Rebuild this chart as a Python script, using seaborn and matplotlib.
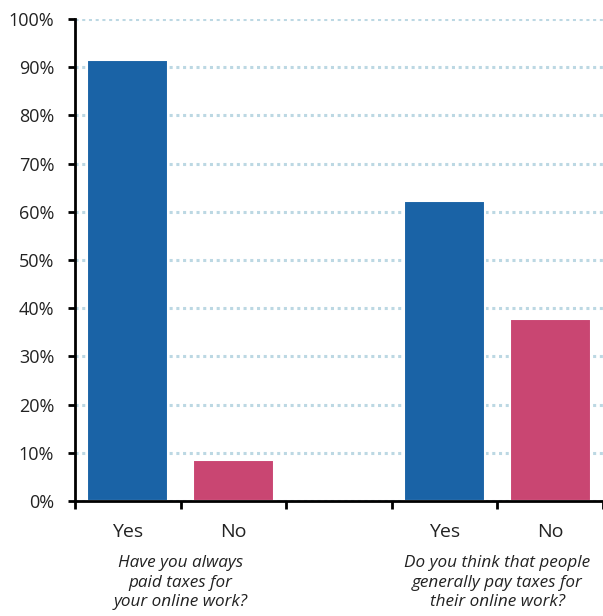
import pandas as pd
import matplotlib
matplotlib.use("Agg")
import matplotlib.pyplot as plt
import seaborn as sns

# survey answers, percent
answers = ["Yes", "No", "Yes", "No"]
slots = [0, 1, 3, 4]          # slot 2 is the empty gap between the two questions
shares = [91.4, 8.6, 62.3, 37.7]
questions = ["Have you always\npaid taxes for\nyour online work?",
             "Do you think that people\ngenerally pay taxes for\ntheir online work?"]
question_pos = [0.5, 3.5]
y_ticks = list(range(0, 101, 10))

blue = "#1a63a6"
pink = "#c94672"

df = pd.DataFrame({"slot": slots, "answer": answers, "share": shares})

sns.set_style("white")
plt.rcParams["font.family"] = ["Open Sans", "DejaVu Sans"]

fig = plt.figure(figsize=(6.03, 6.16), dpi=100)
ax = fig.add_axes([75 / 603, 1 - 501 / 616, 528 / 603, 482 / 616])

sns.barplot(data=df, x="slot", y="share", hue="answer", native_scale=True,
            palette={"Yes": blue, "No": pink}, width=0.77, dodge=False, saturation=1,
            edgecolor="white", linewidth=1.5, legend=False, ax=ax, zorder=2)

ax.set_xlim(-0.5, 4.5)
ax.set_ylim(0, 100)
ax.set_yticks(y_ticks)
ax.set_yticklabels([f"{t}%" for t in y_ticks])
ax.yaxis.grid(True, color="#bcd8e3", linestyle=(0, (1, 1.2)), linewidth=2.2, zorder=0)
ax.set_axisbelow(True)

# category labels at centres, tick marks at the slot boundaries
ax.set_xticks(slots)
ax.set_xticklabels(answers)
ax.set_xticks([-0.5, 0.5, 1.5, 2.5, 3.5, 4.5], minor=True)
ax.tick_params(axis="x", which="major", bottom=True, length=0, pad=16, labelsize=14, colors="#222222")
ax.tick_params(axis="x", which="minor", bottom=True, length=6, width=2, direction="out", color="black")
ax.tick_params(axis="y", left=True, length=5, width=2, direction="out", color="black",
               labelsize=13, labelcolor="#222222", pad=10)

ax.set_xlabel("")
ax.set_ylabel("")
for side in ["top", "right"]:
    ax.spines[side].set_visible(False)
for side in ["left", "bottom"]:
    ax.spines[side].set_linewidth(2)
    ax.spines[side].set_color("black")

for pos, q in zip(question_pos, questions):
    ax.text(pos, -11.3, q, ha="center", va="top", fontsize=12.3, style="italic",
            color="#222222", linespacing=1.27, transform=ax.transData, clip_on=False)

fig.savefig("out.png", dpi=100)
